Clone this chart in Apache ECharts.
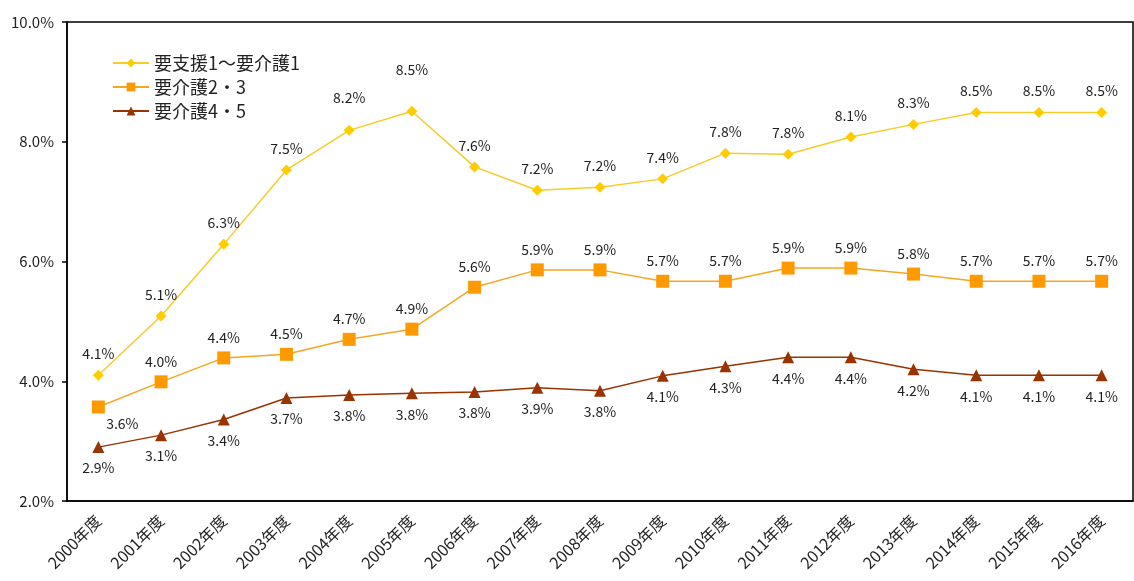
<!DOCTYPE html>
<html>
<head>
<meta charset="utf-8">
<script src="https://cdn.jsdelivr.net/npm/echarts@6/dist/echarts.min.js"></script>
<style>
  html, body { margin: 0; padding: 0; background: #fff; }
  #chart { width: 1134px; height: 581px; }
</style>
</head>
<body>
<div id="chart"></div>
<script>
const years = ['2000年度', '2001年度', '2002年度', '2003年度', '2004年度', '2005年度', '2006年度', '2007年度', '2008年度',
  '2009年度', '2010年度', '2011年度', '2012年度', '2013年度', '2014年度', '2015年度', '2016年度'];

// 要支援1～要介護1
const light = [4.1, 5.09, 6.29, 7.53, 8.19, 8.51, 7.58, 7.19, 7.24, 7.38, 7.81, 7.79, 8.08, 8.29, 8.49, 8.49, 8.49];
// 要介護2・3
const middle = [3.57, 3.99, 4.39, 4.45, 4.7, 4.87, 5.57, 5.86, 5.86, 5.67, 5.67, 5.89, 5.89, 5.79, 5.67, 5.67, 5.67];
// 要介護4・5
const heavy = [2.9, 3.1, 3.36, 3.72, 3.77, 3.8, 3.82, 3.89, 3.84, 4.09, 4.25, 4.4, 4.4, 4.2, 4.1, 4.1, 4.1];

const yTicks = [2, 4, 6, 8, 10];

const font = '"Noto Sans CJK JP", "Noto Sans", sans-serif';
const pct = v => v.toFixed(1) + '%';

const chart = echarts.init(document.getElementById('chart'));

const labelStyle = {
  show: true,
  fontSize: 14,
  color: '#222',
  fontFamily: font,
  formatter: p => pct(p.value)
};

chart.setOption({
  animation: false,
  textStyle: { fontFamily: font },
  grid: {
    left: 67, right: 1, top: 22, bottom: 80,
    show: true, borderColor: '#000', borderWidth: 1.5, backgroundColor: 'transparent'
  },
  legend: {
    orient: 'vertical',
    left: 112,
    top: 54,
    padding: 0,
    itemWidth: 36,
    itemHeight: 11,
    itemGap: 6,
    textStyle: { fontSize: 18, color: '#222', fontFamily: font },
    data: ['要支援1～要介護1', '要介護2・3', '要介護4・5']
  },
  xAxis: {
    type: 'category',
    data: years,
    boundaryGap: true,
    axisLine: { lineStyle: { color: '#000', width: 1.5 } },
    axisTick: { inside: true, length: 5, lineStyle: { color: '#000', width: 1.5 } },
    axisLabel: { rotate: 45, fontSize: 16, color: '#222', margin: 17, interval: 0, fontFamily: font }
  },
  yAxis: {
    type: 'value',
    min: yTicks[0],
    max: yTicks[yTicks.length - 1],
    interval: 2,
    splitLine: { show: false },
    axisLine: { show: true, lineStyle: { color: '#000', width: 1.5 } },
    axisTick: { show: true, length: 5, lineStyle: { color: '#000', width: 1.5 } },
    axisLabel: { fontSize: 15, color: '#222', margin: 13, formatter: v => v.toFixed(1) + '%', fontFamily: font }
  },
  series: [
    {
      name: '要支援1～要介護1',
      type: 'line',
      data: light.map((v, i) => {
        if (i === 4) return { value: v, label: { distance: 20 } };
        if (i === 5) return { value: v, label: { distance: 29 } };
        return v;
      }),
      symbol: 'diamond',
      symbolSize: 11,
      itemStyle: { color: '#FFCC00' },
      lineStyle: { color: '#F5CC2A', width: 1.5 },
      label: Object.assign({ position: 'top', distance: 9 }, labelStyle),
      z: 3
    },
    {
      name: '要介護2・3',
      type: 'line',
      data: middle.map((v, i) => {
        if (i === 0) return { value: v, label: { position: 'bottom', distance: 3, offset: [24, 0] } };
        return v;
      }),
      symbol: 'rect',
      symbolSize: 13,
      itemStyle: { color: '#FF9900' },
      lineStyle: { color: '#F5A623', width: 1.5 },
      label: Object.assign({ position: 'top', distance: 7 }, labelStyle),
      z: 3
    },
    {
      name: '要介護4・5',
      type: 'line',
      data: heavy,
      symbol: 'triangle',
      symbolSize: 12,
      itemStyle: { color: '#993300' },
      lineStyle: { color: '#993300', width: 1.5 },
      label: Object.assign({ position: 'bottom', distance: 8 }, labelStyle),
      z: 3
    }
  ]
});
</script>
</body>
</html>
